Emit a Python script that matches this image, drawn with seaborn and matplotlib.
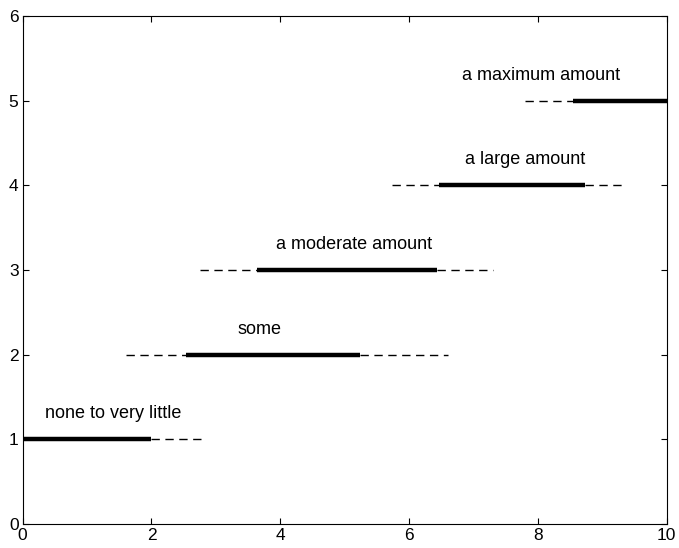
import matplotlib
matplotlib.use("Agg")
import matplotlib.pyplot as plt
import seaborn as sns
import pandas as pd

# Linguistic levels and their fuzzy ranges
labels = ["none to very little", "some", "a moderate amount", "a large amount", "a maximum amount"]
levels = [1, 2, 3, 4, 5]
support_lo = [0.0, 1.61, 2.75, 5.74, 7.80]
core_lo = [0.0, 2.54, 3.64, 6.47, 8.54]
core_hi = [2.0, 5.24, 6.44, 8.73, 10.0]
support_hi = [2.78, 6.60, 7.30, 9.34, 10.0]
label_x = [1.41, 3.68, 5.15, 7.80, 8.05]

sns.set_style("ticks")
plt.rcParams["font.family"] = ["Liberation Sans", "DejaVu Sans"]
plt.rcParams["text.color"] = "black"
plt.rcParams["xtick.color"] = "black"
plt.rcParams["ytick.color"] = "black"

fig = plt.figure(figsize=(6.79, 5.48), dpi=100)
ax = fig.add_axes([0.0334, 0.0438, 0.9486, 0.9272])

for lvl, slo, clo, chi, shi, lab, lx in zip(levels, support_lo, core_lo, core_hi,
                                           support_hi, labels, label_x):
    # dashed shoulders
    for a, b in [(slo, clo), (chi, shi)]:
        if b > a:
            d = pd.DataFrame({"x": [a, b], "y": [lvl, lvl]})
            sns.lineplot(data=d, x="x", y="y", ax=ax, color="black", lw=1.0,
                         linestyle=(0, (6, 4)), estimator=None, sort=False)
    # solid core
    d = pd.DataFrame({"x": [clo, chi], "y": [lvl, lvl]})
    sns.lineplot(data=d, x="x", y="y", ax=ax, color="black", lw=3.2,
                 estimator=None, sort=False, solid_capstyle="butt")
    ax.text(lx, lvl + 0.3, lab, ha="center", va="center", fontsize=13,
            color="black")

ax.set_xlim(0, 10)
ax.set_ylim(0, 6)
ax.set_xticks([0, 2, 4, 6, 8, 10])
ax.set_yticks([0, 1, 2, 3, 4, 5, 6])
ax.set_xlabel("")
ax.set_ylabel("")
for s in ax.spines.values():
    s.set_visible(True)
    s.set_color("black")
    s.set_linewidth(0.8)
ax.tick_params(direction="in", length=4, width=0.8, labelsize=12.5,
               top=True, right=True, pad=3, colors="black")

fig.savefig("out.png", dpi=100)
